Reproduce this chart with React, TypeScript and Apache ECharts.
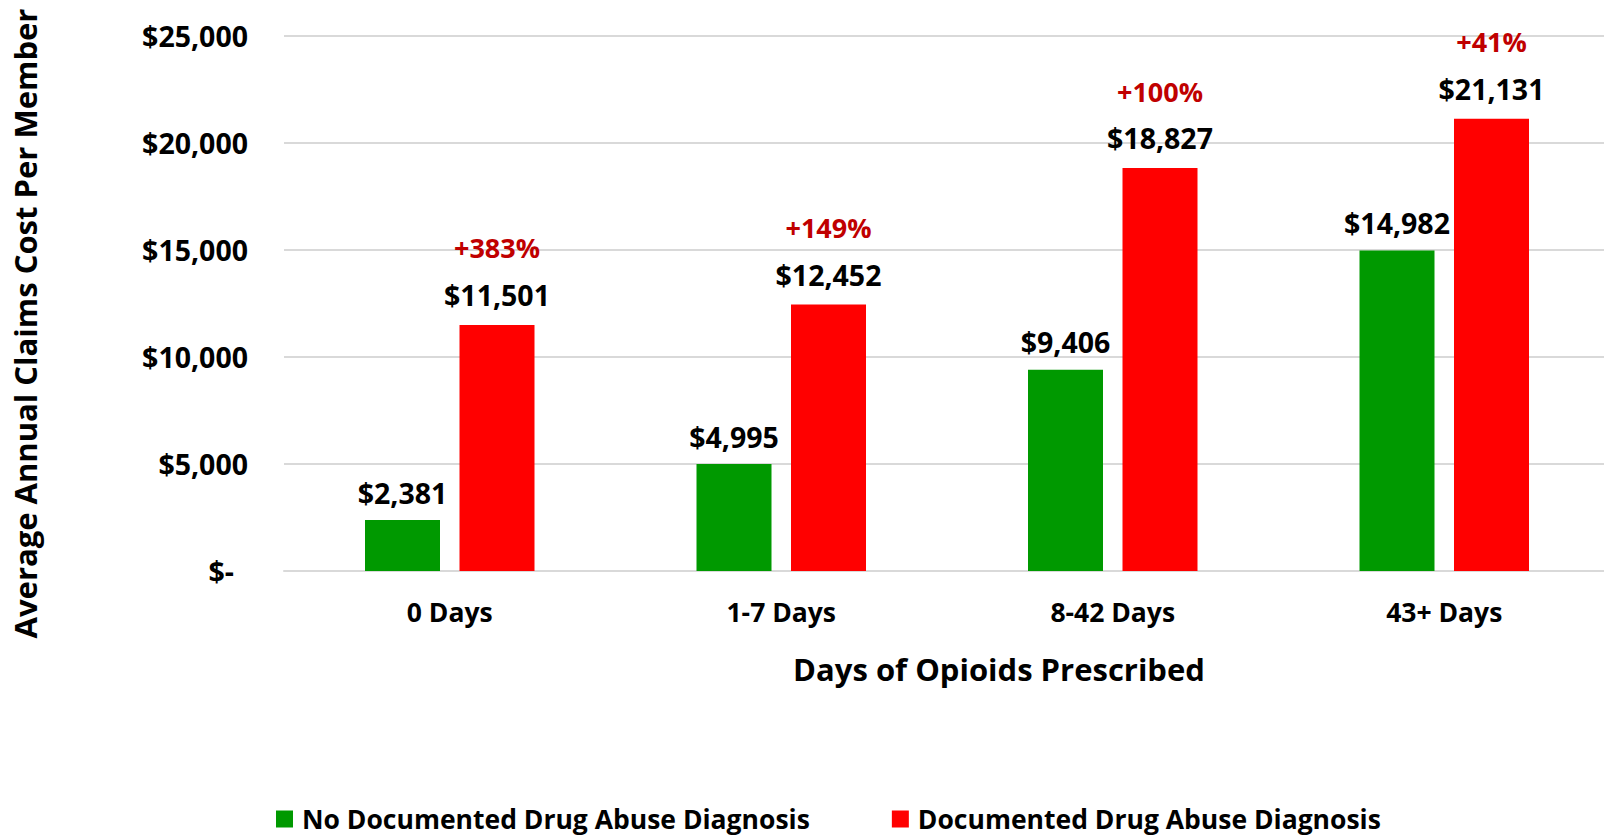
import React, { useEffect, useRef } from "react";
import * as echarts from "echarts";

const categories = ["0 Days", "1-7 Days", "8-42 Days", "43+ Days"];
const noAbuse = [2381, 4995, 9406, 14982];
const withAbuse = [11501, 12452, 18827, 21131];
const pctLabels = ["+383%", "+149%", "+100%", "+41%"];
const seriesNames = ["No Documented Drug Abuse Diagnosis", "Documented Drug Abuse Diagnosis"];

const FONT = "'Open Sans', 'Noto Sans', sans-serif";

function money(v: number): string {
  return "$" + v.toLocaleString("en-US");
}

export default function App() {
  const ref = useRef<HTMLDivElement>(null);
  useEffect(() => {
    document.body.style.margin = "0";
    if (!ref.current) return;
    const chart = echarts.init(ref.current, undefined, { renderer: "svg" });
    chart.setOption({
      animation: false,
      backgroundColor: "#ffffff",
      textStyle: { fontFamily: FONT },
      grid: { left: 284, right: 2, top: 36, bottom: 267 },
      legend: {
        left: 271,
        top: 800,
        itemWidth: 17,
        itemHeight: 17,
        itemGap: 82,
        icon: "rect",
        textStyle: {
          fontFamily: FONT,
          fontWeight: "bold",
          fontSize: 26.5,
          lineHeight: 28,
          color: "#000",
          padding: [0, 0, 0, 4],
        },
        data: seriesNames,
      },
      xAxis: {
        type: "category",
        data: categories,
        axisTick: { show: false },
        axisLine: { show: true, lineStyle: { color: "#D9D9D9", width: 2 } },
        axisLabel: { fontFamily: FONT, fontWeight: "bold", fontSize: 26.5, color: "#000", margin: 27 },
        name: "Days of Opioids Prescribed",
        nameLocation: "middle",
        nameGap: 82,
        nameTextStyle: {
          fontFamily: FONT,
          fontWeight: "bold",
          fontSize: 31,
          color: "#000",
          padding: [0, 0, 0, 104],
        },
      },
      yAxis: {
        type: "value",
        min: 0,
        max: 25000,
        interval: 5000,
        axisLine: { show: false },
        axisTick: { show: false },
        splitLine: { lineStyle: { color: "#D9D9D9", width: 2 } },
        axisLabel: {
          margin: 36,
          formatter: (v: number) => (v === 0 ? "{z|$-}" : "{n|" + money(v) + "}"),
          rich: {
            n: { fontFamily: FONT, fontWeight: "bold", fontSize: 28.5, color: "#000" },
            z: { fontFamily: FONT, fontWeight: "bold", fontSize: 28.5, color: "#000", padding: [0, 14, 0, 0] },
          },
        },
        name: "Average Annual Claims Cost Per Member",
        nameLocation: "middle",
        nameGap: 244,
        nameTextStyle: {
          fontFamily: FONT,
          fontWeight: "bold",
          fontSize: 31,
          color: "#000",
          padding: [0, 40, 0, 0],
        },
      },
      series: [
        {
          name: seriesNames[0],
          type: "bar",
          data: noAbuse,
          barWidth: 75,
          barGap: "26%",
          itemStyle: { color: "#009900" },
          label: {
            show: true,
            position: "top",
            distance: 13,
            formatter: (p: any) => money(p.value),
            fontFamily: FONT,
            fontWeight: "bold",
            fontSize: 28.5,
            color: "#000",
          },
        },
        {
          name: seriesNames[1],
          type: "bar",
          data: withAbuse,
          barWidth: 75,
          barGap: "26%",
          itemStyle: { color: "#FF0000" },
          label: {
            show: true,
            position: "top",
            distance: 13,
            formatter: (p: any) => "{p|" + pctLabels[p.dataIndex] + "}\n{v|" + money(p.value) + "}",
            rich: {
              p: { fontFamily: FONT, fontWeight: "bold", fontSize: 27, color: "#C00000", lineHeight: 60 },
              v: { fontFamily: FONT, fontWeight: "bold", fontSize: 28.5, color: "#000", lineHeight: 34 },
            },
          },
        },
      ],
    });
    return () => chart.dispose();
  }, []);
  return (
    <div style={{ width: 1604, height: 838, overflow: "hidden", position: "relative" }}>
      <div ref={ref} style={{ width: 1612, height: 838 }} />
    </div>
  );
}
